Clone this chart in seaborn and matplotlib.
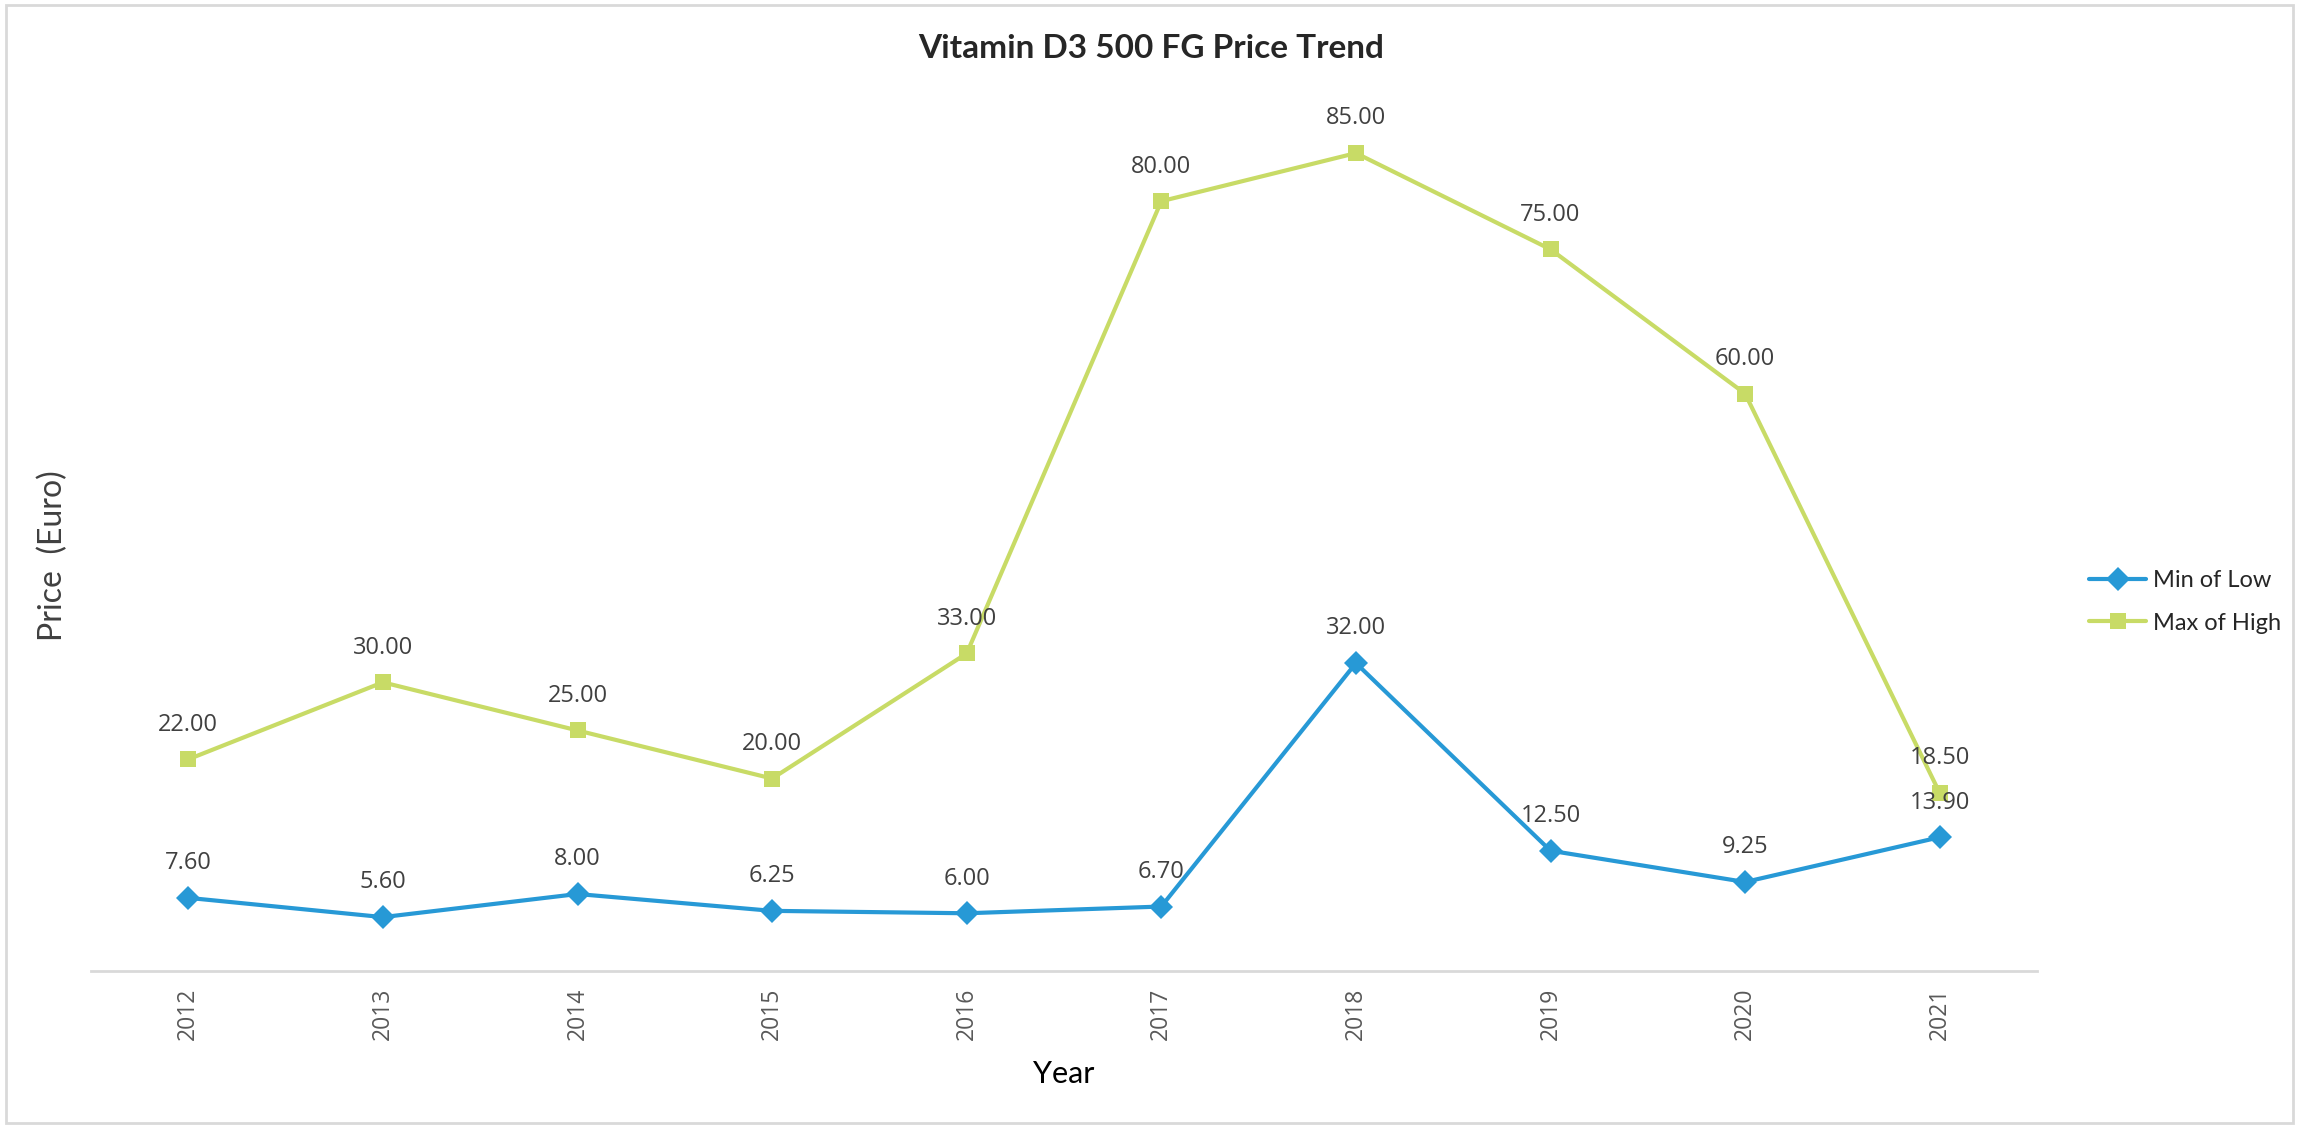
import matplotlib
matplotlib.use("Agg")
import matplotlib.pyplot as plt
import seaborn as sns
import pandas as pd
from matplotlib.patches import Rectangle

years = ["2012", "2013", "2014", "2015", "2016", "2017", "2018", "2019", "2020", "2021"]
min_of_low = [7.60, 5.60, 8.00, 6.25, 6.00, 6.70, 32.00, 12.50, 9.25, 13.90]
max_of_high = [22.00, 30.00, 25.00, 20.00, 33.00, 80.00, 85.00, 75.00, 60.00, 18.50]
series_names = ["Min of Low", "Max of High"]

BLUE = "#2799D6"
GREEN = "#C8DB66"

sns.set_theme(style="white")
plt.rcParams["font.family"] = ["Lato", "DejaVu Sans"]
LABEL_FONT = ["Open Sans", "DejaVu Sans"]

df = pd.DataFrame({
    "Year": years * 2,
    "Price": min_of_low + max_of_high,
    "Series": [series_names[0]] * len(years) + [series_names[1]] * len(years),
})

fig = plt.figure(figsize=(23.03, 11.27), dpi=100)
ax = fig.add_axes([91 / 2303, 1 - 971 / 1127, (2037 - 91) / 2303, (971 - 105) / 1127])

sns.lineplot(data=df, x="Year", y="Price", hue="Series", style="Series",
             palette={series_names[0]: BLUE, series_names[1]: GREEN},
             markers={series_names[0]: "D", series_names[1]: "s"},
             dashes=False, linewidth=3, markersize=12, markeredgewidth=0,
             sort=False, ax=ax)

ax.set_xlim(-0.5, len(years) - 0.5)
ax.set_ylim(0, 90)
ax.set_yticks([])
for s in ["top", "right", "left"]:
    ax.spines[s].set_visible(False)
ax.spines["bottom"].set_color("#D9D9D9")
ax.spines["bottom"].set_linewidth(2)
ax.tick_params(axis="x", length=0, pad=12, labelsize=16.5, labelcolor="#595959", rotation=90)
for lbl in ax.get_xticklabels():
    lbl.set_family(LABEL_FONT)
ax.set_xlabel("Year", fontsize=22, color="#000000", labelpad=14)
ax.set_ylabel("Price  (Euro)", fontsize=23, color="#404040")
ax.yaxis.set_label_coords(-0.0115, 0.48)

for i, (lo, hi) in enumerate(zip(min_of_low, max_of_high)):
    ax.annotate(f"{lo:.2f}", (i, lo), xytext=(0, 25), textcoords="offset points",
                ha="center", va="center", fontsize=17, color="#404040", family=LABEL_FONT)
    ax.annotate(f"{hi:.2f}", (i, hi), xytext=(0, 25), textcoords="offset points",
                ha="center", va="center", fontsize=17, color="#404040", family=LABEL_FONT)

handles, labels = ax.get_legend_handles_labels()
ax.legend(handles, labels, loc="center left", bbox_to_anchor=(2068 / 2303, 1 - 602 / 1127),
          bbox_transform=fig.transFigure, frameon=False, fontsize=17,
          handlelength=2.4, handletextpad=0.3, labelspacing=0.9)

fig.text(0.5, 1 - 48 / 1127, "Vitamin D3 500 FG Price Trend", ha="center", va="center",
         fontsize=24, fontweight="bold")

fig.patches.append(Rectangle((6 / 2303, 4 / 1127), (2293 - 6) / 2303, (1122 - 4) / 1127,
                             transform=fig.transFigure, fill=False, edgecolor="#D9D9D9", linewidth=2))

fig.savefig("out.png", dpi=100)
